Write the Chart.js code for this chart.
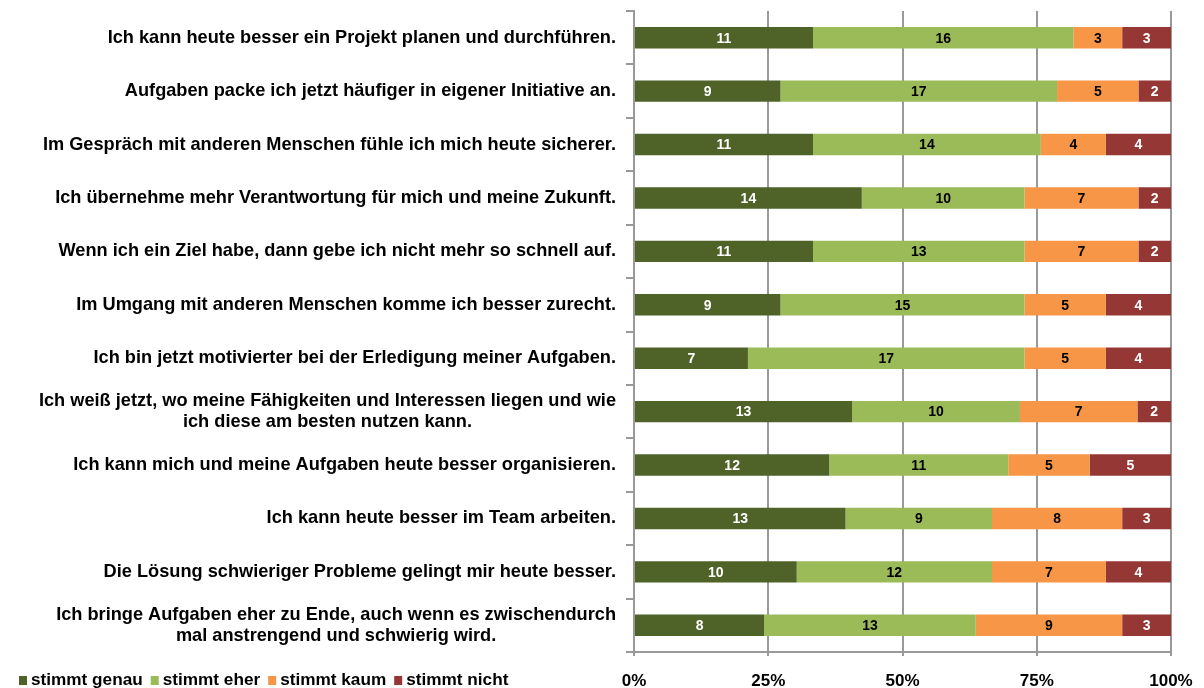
<!DOCTYPE html>
<html>
<head>
<meta charset="utf-8">
<script src="https://cdn.jsdelivr.net/npm/chart.js@4/dist/chart.umd.min.js"></script>
<style>
  html, body { margin: 0; padding: 0; background: #fff; }
  #wrap { width: 1204px; height: 688px; position: relative; }
</style>
</head>
<body>
<div id="wrap"><canvas id="chart"></canvas></div>
<script>
// Statements, top to bottom
const statements = [
    'Ich kann heute besser ein Projekt planen und durchführen.',
    'Aufgaben packe ich jetzt häufiger in eigener Initiative an.',
    'Im Gespräch mit anderen Menschen fühle ich mich heute sicherer.',
    'Ich übernehme mehr Verantwortung für mich und meine Zukunft.',
    'Wenn ich ein Ziel habe, dann gebe ich nicht mehr so schnell auf.',
    'Im Umgang mit anderen Menschen komme ich besser zurecht.',
    'Ich bin jetzt motivierter bei der Erledigung meiner Aufgaben.',
    ['Ich weiß jetzt, wo meine Fähigkeiten und Interessen liegen und wie', 'ich diese am besten nutzen kann.'],
    'Ich kann mich und meine Aufgaben heute besser organisieren.',
    'Ich kann heute besser im Team arbeiten.',
    'Die Lösung schwieriger Probleme gelingt mir heute besser.',
    ['Ich bringe Aufgaben eher zu Ende, auch wenn es zwischendurch', 'mal anstrengend und schwierig wird.']
];

// answer counts per statement
const stimmtGenau = [11, 9, 11, 14, 11, 9, 7, 13, 12, 13, 10, 8];
const stimmtEher  = [16, 17, 14, 10, 13, 15, 17, 10, 11, 9, 12, 13];
const stimmtKaum  = [3, 5, 4, 7, 7, 5, 5, 7, 5, 8, 7, 9];
const stimmtNicht = [3, 2, 4, 2, 2, 4, 4, 2, 5, 3, 4, 3];

const seriesNames = ['stimmt genau', 'stimmt eher', 'stimmt kaum', 'stimmt nicht'];
const xTicks = [0, 25, 50, 75, 100];

const FONT = '"Liberation Sans", Arial, sans-serif';
const GRID = '#999999';
const colors = ['#4F6228', '#9BBB59', '#F79646', '#953735'];
const labelColors = ['#ffffff', '#000000', '#000000', '#ffffff'];

const counts = [stimmtGenau, stimmtEher, stimmtKaum, stimmtNicht];
const totals = statements.map((s, i) => counts.reduce((sum, arr) => sum + arr[i], 0));
const toPct = arr => arr.map((v, i) => v / totals[i] * 100);

// numbers inside the bars
const barValues = {
    id: 'barValues',
    afterDatasetsDraw(chart) {
        const ctx = chart.ctx;
        ctx.save();
        ctx.font = 'bold 14px ' + FONT;
        ctx.textAlign = 'center';
        ctx.textBaseline = 'middle';
        chart.data.datasets.forEach((ds, di) => {
            const meta = chart.getDatasetMeta(di);
            ctx.fillStyle = labelColors[di];
            meta.data.forEach((bar, i) => {
                const p = bar.getProps(['x', 'y', 'base'], true);
                ctx.fillText(String(counts[di][i]), (p.x + p.base) / 2, p.y + 1);
            });
        });
        ctx.restore();
    }
};

// category labels: block right aligned, lines centred in the block (like Excel)
const yLabels = {
    id: 'yLabels',
    afterDraw(chart) {
        const ctx = chart.ctx;
        const scale = chart.scales.y;
        const right = chart.chartArea.left - 18;
        ctx.save();
        ctx.font = 'bold 18.2px ' + FONT;
        ctx.fillStyle = '#000';
        ctx.textAlign = 'center';
        ctx.textBaseline = 'middle';
        statements.forEach((lab, i) => {
            const lines = Array.isArray(lab) ? lab : [lab];
            const w = Math.max(...lines.map(l => ctx.measureText(l).width));
            const cx = right - w / 2;
            const y = scale.getPixelForValue(i);
            const lh = 21;
            lines.forEach((l, k) => {
                ctx.fillText(l, cx, y + (k - (lines.length - 1) / 2) * lh);
            });
        });
        ctx.restore();
    }
};

// legend on the same line as the x tick labels
const bottomLegend = {
    id: 'bottomLegend',
    afterDraw(chart) {
        const ctx = chart.ctx;
        ctx.save();
        ctx.font = 'bold 17.2px ' + FONT;
        ctx.textBaseline = 'middle';
        let x = 19;
        const y = 680;
        chart.data.datasets.forEach((ds) => {
            ctx.fillStyle = ds.backgroundColor;
            ctx.fillRect(x, y - 4, 8, 9);
            x += 12;
            ctx.fillStyle = '#000';
            ctx.fillText(ds.label, x, y);
            x += ctx.measureText(ds.label).width + 8;
        });
        ctx.restore();
    }
};

new Chart(document.getElementById('chart'), {
    type: 'bar',
    data: {
        labels: statements,
        datasets: seriesNames.map((name, i) => ({
            label: name,
            data: toPct(counts[i]),
            backgroundColor: colors[i],
            borderWidth: 0,
            categoryPercentage: 1,
            barPercentage: 0.4
        }))
    },
    options: {
        indexAxis: 'y',
        responsive: true,
        maintainAspectRatio: false,
        animation: false,
        layout: { padding: { top: 11, right: 33, bottom: 0, left: 0 } },
        plugins: {
            legend: { display: false },
            tooltip: { enabled: false }
        },
        scales: {
            x: {
                stacked: true,
                min: 0,
                max: 100,
                afterBuildTicks: (scale) => { scale.ticks = xTicks.map(v => ({ value: v })); },
                afterFit: (scale) => {
                    scale.height = 36;
                    scale.paddingLeft = 0;
                    scale.paddingRight = 0;
                },
                ticks: {
                    callback: v => v + '%',
                    color: '#000',
                    font: { family: FONT, size: 17, weight: 'bold' },
                    padding: 15,
                    maxRotation: 0
                },
                grid: { color: GRID, lineWidth: 2, tickLength: 4 },
                border: { color: GRID, width: 2 }
            },
            y: {
                stacked: true,
                ticks: { display: false },
                afterFit: (scale) => { scale.width = 634; },
                grid: {
                    display: true,
                    drawOnChartArea: false,
                    offset: true,
                    color: GRID,
                    lineWidth: 2,
                    tickLength: 8
                },
                border: { color: GRID, width: 2 }
            }
        }
    },
    plugins: [barValues, yLabels, bottomLegend]
});
</script>
</body>
</html>
